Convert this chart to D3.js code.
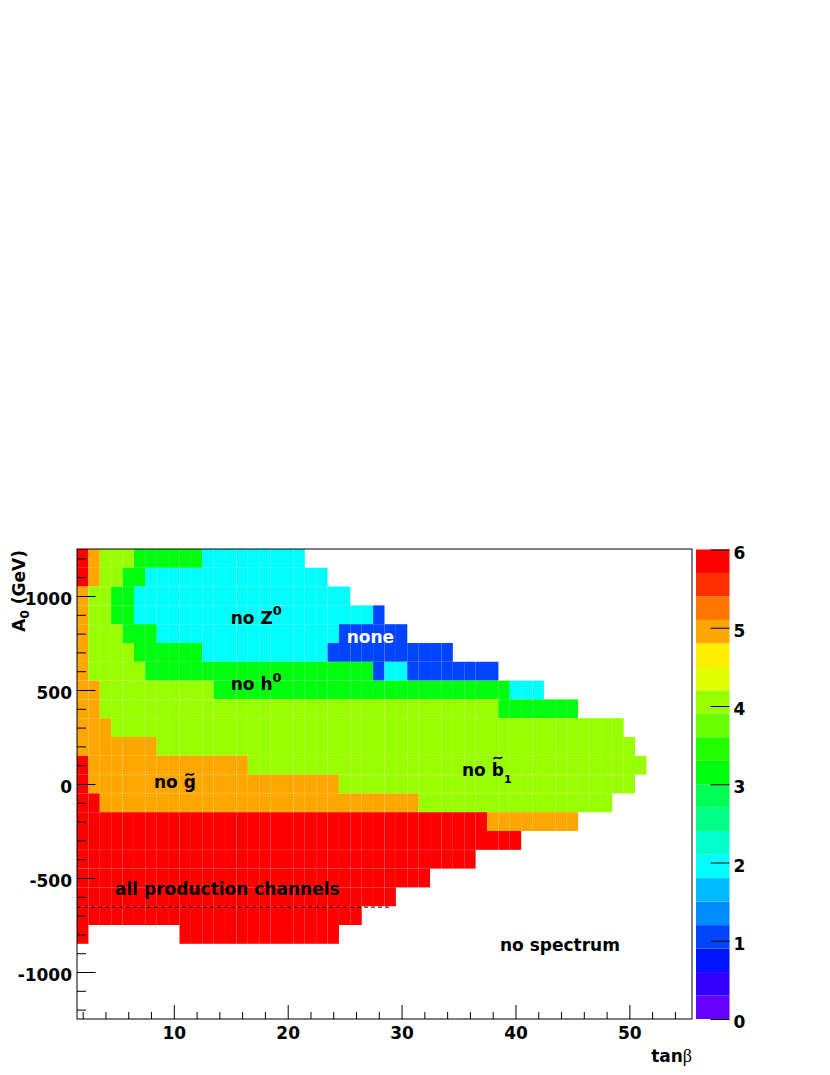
<!DOCTYPE html>
<html><head><meta charset="utf-8">
<script src="https://cdn.jsdelivr.net/npm/d3@7"></script>
<style>
body{margin:0;background:#fff;}
svg text{font-family:"DejaVu Sans",sans-serif;font-weight:bold;font-size:17px;fill:#000;}
</style></head><body>
<svg id="chart" width="830" height="1075"></svg>
<script>
// ---- data ----
const tanBetaBins = [2,3,4,5,6,7,8,9,10,11,12,13,14,15,16,17,18,19,20,21,22,23,24,25,26,27,28,
  29,30,31,32,33,34,35,36,37,38,39,40,41,42,43,44,45,46,47,48,49,50,51,52,53,54,55];
const a0Bins = [1200,1100,1000,900,800,700,600,500,400,300,200,100,0,-100,-200,-300,-400,-500,
  -600,-700,-800,-900,-1000,-1100,-1200];
// per A0 row, starting at tanβ = 2: [value, number of consecutive bins]; value 0 = empty
const cellRuns = [
  [[6,1],[5,1],[4,3],[3,6],[2,9]],               // 1200
  [[6,1],[5,1],[4,2],[3,2],[2,16]],              // 1100
  [[5,1],[4,2],[3,2],[2,19]],                    // 1000
  [[5,1],[4,2],[3,2],[2,21],[1,1]],              // 900
  [[5,1],[4,3],[3,3],[2,16],[1,6]],              // 800
  [[5,1],[4,4],[3,6],[2,11],[1,11]],             // 700
  [[5,1],[4,5],[3,20],[1,1],[2,2],[1,8]],        // 600
  [[5,2],[4,10],[3,26],[2,3]],                   // 500
  [[5,2],[4,35],[3,7]],                          // 400
  [[5,3],[4,45]],                                // 300
  [[5,7],[4,42]],                                // 200
  [[6,1],[5,14],[4,35]],                         // 100
  [[6,1],[5,22],[4,26]],                         // 0
  [[6,2],[5,28],[4,17]],                         // -100
  [[6,36],[5,8]],                                // -200
  [[6,39]],                                      // -300
  [[6,35]],                                      // -400
  [[6,31]],                                      // -500
  [[6,28]],                                      // -600
  [[6,25]],                                      // -700
  [[6,1],[0,8],[6,14]],                          // -800
  [],[],[],[]                                    // -900 .. -1200
];
const paletteColors = ["#6300FF","#3300FF","#0014FF","#0044FF","#008BFF","#00BBFF","#00FFFC",
  "#00FFCC","#00FF85","#00FF55","#00FF0E","#22FF00","#69FF00","#99FF00","#E0FF00","#FFEE00",
  "#FFA700","#FF7700","#FF3000","#FF0000"];
const zRange = [0, 6];
const xMajorTicks = [10,20,30,40,50];
const xMinorTicks = [2,4,6,8,12,14,16,18,22,24,26,28,32,34,36,38,42,44,46,48,52,54];
const yMajorTicks = [-1000,-500,0,500,1000];
const yMinorTicks = [-1200,-1100,-900,-800,-700,-600,-400,-300,-200,-100,100,200,300,400,600,700,800,900,1100,1200];
const zTicks = [0,1,2,3,4,5,6];
const dashedLine = {tanBeta:[1.5, 29], a0:-655};

// ---- drawing ----
const svg = d3.select("#chart");
const x = d3.scaleLinear().domain([1.5, 55.5]).range([77, 692]);
const y = d3.scaleLinear().domain([-1250, 1250]).range([1019, 549]);
const color = d3.scaleQuantize().domain(zRange).range(paletteColors);

const cells = [];
cellRuns.forEach((runs, r) => {
  let i = 0;
  runs.forEach(([v, n]) => {
    for (let k = 0; k < n; k++, i++) {
      if (v > 0) cells.push({t: tanBetaBins[i], a: a0Bins[r], v});
    }
  });
});

svg.append("g").selectAll("rect").data(cells).join("rect")
  .attr("x", d => x(d.t - 0.5))
  .attr("y", d => y(d.a + 50))
  .attr("width", d => x(d.t + 0.5) - x(d.t - 0.5))
  .attr("height", d => y(d.a - 50) - y(d.a + 50))
  .attr("fill", d => color(d.v));

// dashed line
svg.append("line")
  .attr("x1", x(dashedLine.tanBeta[0])).attr("x2", x(dashedLine.tanBeta[1]))
  .attr("y1", y(dashedLine.a0)).attr("y2", y(dashedLine.a0))
  .attr("stroke", "#000").attr("stroke-width", 1).attr("stroke-dasharray", "4,3");

// frame
svg.append("rect").attr("x", 77).attr("y", 549).attr("width", 615).attr("height", 470)
  .attr("fill", "none").attr("stroke", "#000").attr("stroke-width", 1);

function styleAxis(g){
  g.select(".domain").remove();
  g.selectAll(".tick line").attr("stroke", "#000");
  g.selectAll("text").attr("fill", "#000").style("font-size", "17px");
}
// x axis
svg.append("g").attr("transform", "translate(0,1019)")
  .call(d3.axisBottom(x).tickValues(xMinorTicks).tickSize(-7).tickFormat(""))
  .call(styleAxis);
svg.append("g").attr("transform", "translate(0,1019)")
  .call(d3.axisBottom(x).tickValues(xMajorTicks).tickSize(-14).tickPadding(8).tickFormat(String))
  .call(styleAxis);
// y axis
svg.append("g").attr("transform", "translate(77,0)")
  .call(d3.axisLeft(y).tickValues(yMinorTicks).tickSize(-9).tickFormat(""))
  .call(styleAxis);
svg.append("g").attr("transform", "translate(77,0)")
  .call(d3.axisLeft(y).tickValues(yMajorTicks).tickSize(-18.5).tickPadding(5).tickFormat(String))
  .call(styleAxis)
  .call(g => g.selectAll("text").attr("dy", "0.5em"));

// palette
const pz = d3.scaleLinear().domain(zRange).range([1019, 549.5]);
const step = (zRange[1] - zRange[0]) / paletteColors.length;
svg.append("g").selectAll("rect").data(paletteColors).join("rect")
  .attr("x", 696).attr("width", 33.5)
  .attr("y", (c, i) => pz(zRange[0] + (i + 1) * step))
  .attr("height", (c, i) => pz(zRange[0] + i * step) - pz(zRange[0] + (i + 1) * step))
  .attr("fill", c => c);
svg.append("g").attr("transform", "translate(729.5,0)")
  .call(d3.axisRight(pz).tickValues(zTicks).tickSize(-19).tickPadding(4).tickFormat(String))
  .call(styleAxis)
  .call(g => g.selectAll("text").attr("dy", "0.5em"));

// axis titles
const yt = svg.append("text").attr("transform", "translate(25,550) rotate(-90)").attr("text-anchor", "end");
yt.append("tspan").text("A");
yt.append("tspan").text("0").style("font-size", "12px").attr("dy", 4);
yt.append("tspan").text(" (GeV)").attr("dy", -4);

const xt = svg.append("text").attr("x", 692).attr("y", 1062).attr("text-anchor", "end");
xt.append("tspan").text("tan");
xt.append("tspan").text("β").style("font-family", "'Liberation Serif',serif").style("font-weight", "normal").style("font-size", "18px");

// region labels
function label(xp, yp, parts, fill){
  const t = svg.append("text").attr("x", xp).attr("y", yp).style("fill", fill || "#000");
  parts.forEach(p => {
    const s = t.append("tspan").text(p.s);
    if (p.size) s.style("font-size", p.size + "px");
    if (p.dy) s.attr("dy", p.dy);
  });
  return t;
}
function tildeOver(textSel, charIndex, yc){
  const node = textSel.node();
  const ext = node.getExtentOfChar(charIndex);
  const cx = ext.x + ext.width / 2, w = 8.5, a = 1.8;
  svg.append("path")
    .attr("d", `M${cx - w/2},${yc + a*0.6} C${cx - w/4},${yc - a*1.6} ${cx + w/4},${yc + a*1.6} ${cx + w/2},${yc - a*0.6}`)
    .attr("fill", "none").attr("stroke", "#000").attr("stroke-width", 1.7);
}
label(230.7, 624, [{s:"no Z"}, {s:"0", size:13, dy:-9}]);
label(346.7, 643, [{s:"none"}], "#fff");
label(230.7, 690, [{s:"no h"}, {s:"0", size:13, dy:-8.5}]);
const gLab = label(154, 788, [{s:"no g"}]);
tildeOver(gLab, 3, 774.5);
const bLab = label(462, 776, [{s:"no b"}, {s:"1", size:11, dy:7}]);
tildeOver(bLab, 3, 758);
label(115, 895, [{s:"all production channels"}]);
label(500, 951, [{s:"no spectrum"}]);
</script>
</body></html>
